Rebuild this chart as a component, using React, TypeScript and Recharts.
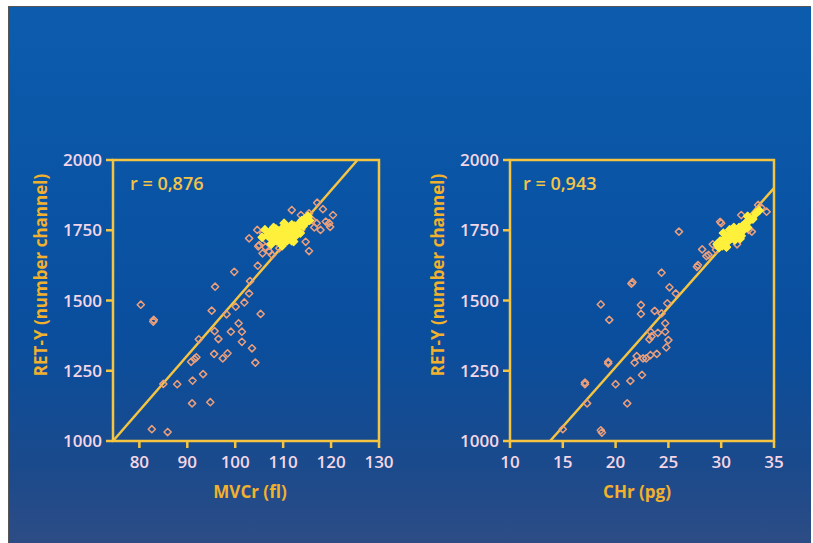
import React from "react";
import {
  ScatterChart,
  Scatter,
  XAxis,
  YAxis,
  ReferenceLine,
  ReferenceArea,
} from "recharts";

// RET-Y vs MVCr (left panel)
const mvcrTicks = [80, 90, 100, 110, 120, 130];
const retTicks = [1000, 1250, 1500, 1750, 2000];

const mvcrOutliers: [number, number][] = [
  [80.3, 1485], [83, 1431], [82.9, 1425], [85, 1203], [87.9, 1202], [82.6, 1042],
  [85.9, 1032], [91, 1134], [94.8, 1138], [91.1, 1215], [93.3, 1238], [90.8, 1282],
  [91.9, 1298], [91.5, 1292], [92.4, 1362], [95.7, 1391], [96.5, 1363], [95.6, 1310],
  [97.4, 1294], [98.4, 1312], [95.1, 1464], [95.8, 1549], [98.2, 1451], [99.1, 1389],
  [100.7, 1419], [101.4, 1389], [101.4, 1353], [103.5, 1330], [104.2, 1279],
  [105.3, 1452], [100.1, 1478], [101.9, 1493], [102.9, 1525], [103.1, 1569],
  [99.8, 1602], [104.7, 1624],
];

// ring markers round the edge of the dense group
const mvcrCluster: [number, number][] = [
  [102.9, 1721], [104.6, 1751], [105, 1697], [104.8, 1693], [105.7, 1668],
  [107.1, 1674], [107.7, 1662], [109.2, 1686], [111.8, 1822], [117.1, 1848],
  [118.3, 1825], [120.4, 1804], [119.6, 1775], [119.8, 1762], [117.8, 1751],
  [114.7, 1709], [115.4, 1676], [113.7, 1804], [115.4, 1810], [116.1, 1786],
  [117, 1775], [118.9, 1781], [105.8, 1740], [106.5, 1712], [115, 1795],
  [116.5, 1760], [106.3, 1690], [113.8, 1752], [110.9, 1738],
];

// yellow core of the dense group
const mvcrCore: [number, number][] = [
  [106.8, 1730], [107.3, 1745], [107.8, 1718], [108.2, 1735], [108.6, 1712],
  [108.9, 1748], [109.1, 1725], [109.4, 1705], [109.6, 1740], [109.9, 1758],
  [110.1, 1720], [110.3, 1735], [110.6, 1748], [110.8, 1712], [111, 1728],
  [111.2, 1742], [111.4, 1755], [111.6, 1720], [111.9, 1735], [112.1, 1750],
  [112.4, 1765], [112.6, 1730], [112.9, 1745], [113.1, 1760], [113.4, 1775],
  [113.6, 1740], [113.9, 1785], [114.2, 1765], [114.5, 1790], [114.8, 1778],
  [115.2, 1800], [115.5, 1785], [108, 1760], [107.5, 1700], [109.8, 1695],
  [110.5, 1765], [111.8, 1770], [112.2, 1710], [106.2, 1752], [105.6, 1725],
  [108.5, 1755], [110.2, 1775], [112.5, 1745], [111.8, 1712], [107.2, 1725],
];

const mvcrFit = [
  { x: 74.5, y: 1000 },
  { x: 125.5, y: 2000 },
];

// RET-Y vs CHr (right panel)
const chrTicks = [10, 15, 20, 25, 30, 35];

const chrOutliers: [number, number][] = [
  [15, 1042], [18.7, 1030], [18.6, 1038], [17.3, 1134], [17.1, 1202], [17.1, 1208],
  [19.3, 1276], [19.3, 1282], [20, 1202], [21.4, 1214], [21.1, 1134], [18.6, 1486],
  [19.4, 1431], [21.6, 1565], [21.5, 1560], [22.4, 1484], [22.4, 1452], [23.7, 1463],
  [24.35, 1599], [25.1, 1547], [26, 1745], [25.7, 1525], [24.9, 1490], [24.35, 1454],
  [24.7, 1419], [24.7, 1389], [24, 1385], [23.3, 1389], [23.2, 1362], [23.4, 1372],
  [25, 1359], [24.8, 1333], [22, 1302], [23.3, 1306], [23.9, 1310], [21.8, 1279],
  [22.6, 1294], [22.9, 1294], [22.5, 1235],
];

const chrCluster: [number, number][] = [
  [28.2, 1682], [27.8, 1626], [27.7, 1620], [28.6, 1658], [28.8, 1662],
  [29.9, 1780], [30, 1775], [31.9, 1804], [33.5, 1840], [34.3, 1816],
  [32.6, 1751], [33, 1800], [32.8, 1790], [31.5, 1700], [30.5, 1690],
  [29.5, 1680], [33.8, 1830], [29.2, 1700], [32.9, 1745],
];

const chrCore: [number, number][] = [
  [29.6, 1700], [29.9, 1712], [30.1, 1695], [30.3, 1720], [30.4, 1705],
  [30.6, 1730], [30.7, 1712], [30.9, 1740], [31, 1722], [31.1, 1735],
  [31.2, 1745], [31.3, 1715], [31.4, 1752], [31.5, 1730], [31.6, 1740],
  [31.7, 1760], [31.8, 1745], [32, 1765], [32.1, 1750], [32.3, 1775],
  [32.5, 1760], [32.7, 1785], [33, 1790], [33.3, 1810], [33.6, 1820],
  [30.2, 1740], [30.8, 1752], [31.9, 1730], [30.5, 1690], [29.8, 1688],
  [31.2, 1760], [31.8, 1720], [32.2, 1770], [32.5, 1800],
];

const chrFit = [
  { x: 13.8, y: 1000 },
  { x: 35, y: 1900 },
];

const FRAME = "#f5c542";
const TICK_TEXT = "#f4d6e6";
const TITLE = "#f1b12c";
const RING = "#ec9f7a";
const CORE = "#fff03c";
const FONT = "'Open Sans', 'DejaVu Sans', sans-serif";

const toPoints = (arr: [number, number][]) => arr.map(([x, y]) => ({ x, y }));

const Diamond = (props: any) => {
  const { cx, cy, fill, stroke, r = 3.6 } = props;
  if (cx == null || cy == null) return null;
  return (
    <path
      d={`M${cx},${cy - r}L${cx + r},${cy}L${cx},${cy + r}L${cx - r},${cy}Z`}
      fill={fill}
      stroke={stroke}
      strokeWidth={1.5}
      strokeLinejoin="round"
    />
  );
};

interface PanelProps {
  xDomain: [number, number];
  xTicks: number[];
  outliers: [number, number][];
  cluster: [number, number][];
  core: [number, number][];
  fit: { x: number; y: number }[];
  margin: { top: number; right: number; bottom: number; left: number };
  width: number;
}

const tickStyle = {
  fill: TICK_TEXT,
  fontSize: 17,
  fontFamily: FONT,
  fontWeight: 600,
};

const Panel = ({ xDomain, xTicks, outliers, cluster, core, fit, margin, width }: PanelProps) => (
  <ScatterChart width={width} height={543} margin={margin}>
    <XAxis
      type="number"
      dataKey="x"
      domain={xDomain}
      ticks={xTicks}
      allowDataOverflow
      axisLine={false}
      tickLine={{ stroke: FRAME, strokeWidth: 2.5 }}
      tickSize={7}
      tickMargin={8}
      tick={tickStyle}
      height={40}
      interval={0}
    />
    <YAxis
      type="number"
      dataKey="y"
      domain={[1000, 2000]}
      ticks={retTicks}
      allowDataOverflow
      axisLine={false}
      tickLine={{ stroke: FRAME, strokeWidth: 2.5 }}
      tickSize={7}
      tickMargin={4}
      tick={tickStyle}
      width={50}
      interval={0}
    />
    <ReferenceArea
      x1={xDomain[0]}
      x2={xDomain[1]}
      y1={1000}
      y2={2000}
      fill="none"
      fillOpacity={0}
      stroke={FRAME}
      strokeWidth={2.5}
    />
    <ReferenceLine segment={fit} stroke={FRAME} strokeWidth={2.5} />
    <Scatter
      data={toPoints(outliers)}
      fill="none"
      stroke={RING}
      shape={(p: any) => <Diamond {...p} fill="none" stroke={RING} />}
      isAnimationActive={false}
    />
    <Scatter
      data={toPoints(cluster)}
      fill="none"
      stroke={RING}
      shape={(p: any) => <Diamond {...p} fill="none" stroke={RING} />}
      isAnimationActive={false}
    />
    <Scatter
      data={toPoints(core)}
      fill={CORE}
      stroke={CORE}
      shape={(p: any) => <Diamond {...p} r={3.9} fill={CORE} stroke={CORE} />}
      isAnimationActive={false}
    />
  </ScatterChart>
);

const textBase: React.CSSProperties = {
  position: "absolute",
  fontFamily: FONT,
  fontWeight: 700,
  whiteSpace: "nowrap",
  lineHeight: 1,
};

export default function App() {
  return (
    <div
      style={{
        position: "absolute",
        left: 0,
        top: 0,
        width: 813,
        height: 543,
        background: "#ffffff",
        overflow: "hidden",
      }}
    >
      <div
        style={{
          position: "absolute",
          left: 8,
          top: 6,
          width: 802,
          height: 537,
          borderLeft: "1px solid #555",
          borderTop: "1px solid #555",
          background:
            "linear-gradient(180deg, #0c5cad 0%, #0a54a5 35%, #0a4e9d 62%, #1a4a8c 85%, #2d4c85 100%)",
        }}
      />
      <div style={{ position: "absolute", left: 0, top: 0 }}>
        <Panel
          width={400}
          xDomain={[74.5, 130]}
          xTicks={mvcrTicks}
          outliers={mvcrOutliers}
          cluster={mvcrCluster}
          core={mvcrCore}
          fit={mvcrFit}
          margin={{ top: 160, right: 21, bottom: 62, left: 63 }}
        />
      </div>
      <div style={{ position: "absolute", left: 400, top: 0 }}>
        <Panel
          width={413}
          xDomain={[10, 35]}
          xTicks={chrTicks}
          outliers={chrOutliers}
          cluster={chrCluster}
          core={chrCore}
          fit={chrFit}
          margin={{ top: 160, right: 39, bottom: 62, left: 60 }}
        />
      </div>

      <div style={{ ...textBase, left: 130, top: 174, fontSize: 18, color: "#f4c445", fontWeight: 600 }}>
        r = 0,876
      </div>
      <div style={{ ...textBase, left: 523, top: 174, fontSize: 18, color: "#f4c445", fontWeight: 600 }}>
        r = 0,943
      </div>

      <div
        style={{
          ...textBase,
          left: 40,
          top: 275,
          fontSize: 17,
          color: TITLE,
          transform: "translate(-50%, -50%) rotate(-90deg)",
        }}
      >
        RET-Y (number channel)
      </div>
      <div
        style={{
          ...textBase,
          left: 437,
          top: 275,
          fontSize: 17,
          color: TITLE,
          transform: "translate(-50%, -50%) rotate(-90deg)",
        }}
      >
        RET-Y (number channel)
      </div>
      <div style={{ ...textBase, left: 250, top: 491, fontSize: 17, color: TITLE, transform: "translate(-50%, -50%)" }}>
        MVCr (fl)
      </div>
      <div style={{ ...textBase, left: 637, top: 491, fontSize: 17, color: TITLE, transform: "translate(-50%, -50%)" }}>
        CHr (pg)
      </div>
    </div>
  );
}
